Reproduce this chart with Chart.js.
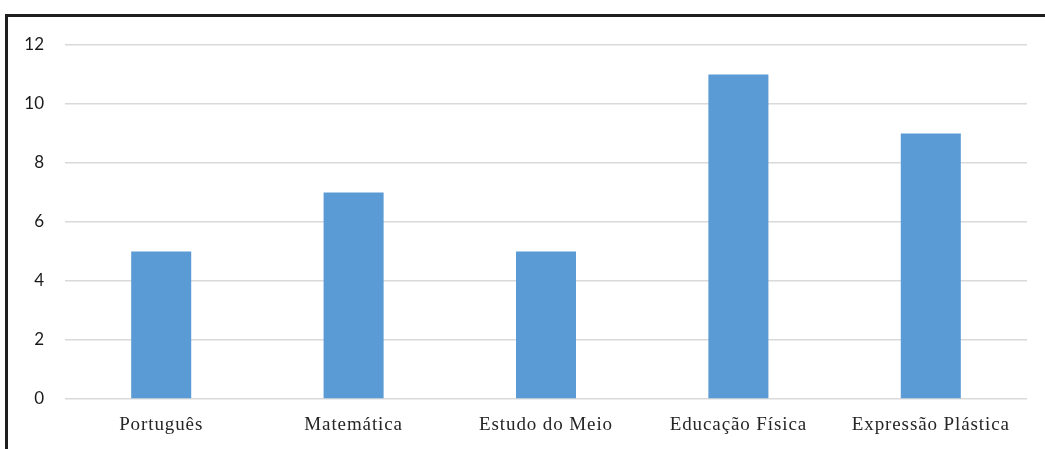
<!DOCTYPE html>
<html>
<head>
<meta charset="utf-8">
<script src="https://cdn.jsdelivr.net/npm/chart.js@4"></script>
<style>
  html, body { margin: 0; padding: 0; background: #fff; }
  #wrap { position: relative; width: 1045px; height: 449px; overflow: hidden; }
  #frame { position: absolute; left: 5px; top: 14px; width: 1100px; height: 500px;
           border-top: 3px solid #1e1e1e; border-left: 3px solid #1e1e1e; box-sizing: border-box; pointer-events: none; }
  canvas { position: absolute; left: 0; top: 0; }
</style>
</head>
<body>
<div id="wrap">
  <canvas id="c" width="1045" height="449"></canvas>
  <div id="frame"></div>
</div>
<script>
const categories = ["Português", "Matemática", "Estudo do Meio", "Educação Física", "Expressão Plástica"];
const values = [5, 7, 5, 11, 9];
const yTicks = [0, 2, 4, 6, 8, 10, 12];

// Category labels are set a little wider than the default serif spacing
const spacedCategoryLabels = {
  id: "spacedCategoryLabels",
  beforeDraw(chart) {
    const x = chart.scales.x;
    if (x && !x._spacedPatched) {
      const orig = x.drawLabels.bind(x);
      x.drawLabels = function (area) {
        const ctx = this.ctx;
        ctx.save();
        ctx.letterSpacing = "0.9px";
        orig(area);
        ctx.restore();
      };
      x._spacedPatched = true;
    }
  }
};

new Chart(document.getElementById("c"), {
  type: "bar",
  data: {
    labels: categories,
    datasets: [{
      data: values,
      backgroundColor: "#5B9BD5",
      borderWidth: 0,
      categoryPercentage: 1,
      barPercentage: 0.312
    }]
  },
  options: {
    responsive: false,
    animation: false,
    layout: { padding: { top: 45, right: 18, left: 0, bottom: 0 } },
    plugins: { legend: { display: false }, tooltip: { enabled: false } },
    scales: {
      x: {
        grid: { display: false, drawTicks: false },
        border: { display: false },
        ticks: {
          padding: 15,
          color: "#262626",
          font: { family: "'Liberation Serif', 'Times New Roman', serif", size: 19 }
        },
        afterFit: s => { s.height = 50; }
      },
      y: {
        min: 0,
        max: 12,
        afterBuildTicks: s => { s.ticks = yTicks.map(v => ({ value: v })); },
        grid: { color: "#d9d9d9", lineWidth: 1.5, drawTicks: false },
        border: { display: false },
        ticks: {
          padding: 21,
          color: "#1a1a1a",
          font: { family: "Lato, 'Open Sans', sans-serif", size: 17 }
        },
        afterFit: s => { s.width = 65; }
      }
    }
  },
  plugins: [spacedCategoryLabels]
});
</script>
</body>
</html>
